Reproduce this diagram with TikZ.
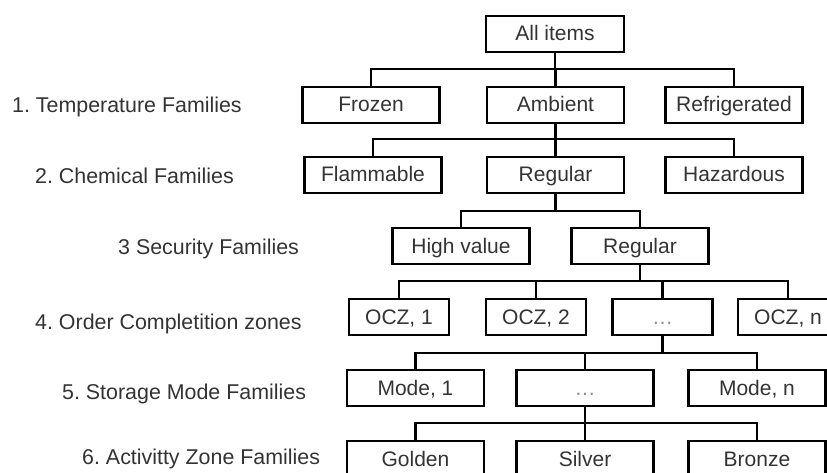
\documentclass[tikz,border=0pt]{standalone}
\usepackage{fontspec}
\setmainfont{Liberation Sans}
\frenchspacing
\begin{document}
\begin{tikzpicture}[x=1pt,y=-1pt,
    famnode/.style={draw=black,line width=2.6pt,minimum width=137pt,minimum height=36pt,
      inner sep=0pt,text height=16pt,text depth=2pt,text=black!80,font=\fontsize{21}{25}\selectfont},
    zonenode/.style={famnode,minimum width=100pt},
    levellabel/.style={anchor=west,inner sep=0pt,text height=16pt,text depth=2pt,
      text=black!80,font=\fontsize{21.4}{25}\selectfont},
    link/.style={line width=2.2pt}]
    % y runs downwards
    \useasboundingbox (0,0) rectangle (827,473);
    \clip (0,0) rectangle (827,473);
            % levels
            \node[levellabel] (lvla) at (12,106) {1. Temperature Families};
            \node[levellabel] (lvlb) at (35,177) {2. Chemical Families};
            \node[levellabel] (lvlc) at (118,247) {3 Security Families};
            \node[levellabel] (lvld) at (35,322) {4. Order Completition zones};
            \node[levellabel] (lvle) at (62,392) {5. Storage Mode Families};
            \node[levellabel] (lvlf) at (82,457) {6. Activitty Zone Families};
            % tree
            \node[famnode,minimum width=138pt] (all) at (555,34) {All items};
            \node[famnode] (frz) at (371,105) {Frozen};
            \node[famnode] (amb) at (555.5,105) {Ambient};
            \node[famnode] (ref) at (734,105) {Refrigerated};
            \node[famnode] (flam) at (373,175) {Flammable};
            \node[famnode] (reg) at (555.5,175) {Regular};
            \node[famnode] (haz) at (734,175) {Hazardous};
            \node[famnode] (high) at (461,246) {High value};
            \node[famnode] (sec) at (640,246) {Regular};
            \node[zonenode] (oczA) at (399,317) {OCZ, 1};
            \node[zonenode] (oczB) at (536,317) {OCZ, 2};
            \node[zonenode,text=black!45] (oczX) at (662.5,317) {\ldots};
            \node[zonenode] (oczN) at (788,317) {OCZ, n};
            \node[famnode] (modeA) at (415.5,388) {Mode, 1};
            \node[famnode,text=black!45] (modeX) at (585,388) {\ldots};
            \node[famnode] (modeN) at (757,388) {Mode, n};
            \node[famnode] (gold) at (415.5,459) {Golden};
            \node[famnode] (silv) at (585,459) {Silver};
            \node[famnode] (bron) at (757,459) {Bronze};
            % links
            \foreach \c in {frz,amb,ref} \draw[link] (all.south) -- ++(0,16) -| (\c.north);
            \foreach \c in {flam,reg,haz} \draw[link] (amb.south) -- ++(0,15) -| (\c.north);
            \foreach \c in {high,sec} \draw[link] (reg.south) -- ++(0,17) -| (\c.north);
            \foreach \c in {oczA,oczB,oczX,oczN} \draw[link] (sec.south) -- ++(0,15.5) -| (\c.north);
            \foreach \c in {modeA,modeX,modeN} \draw[link] (oczX.south) -- ++(0,16.5) -| (\c.north);
            \foreach \c in {gold,silv,bron} \draw[link] (modeX.south) -- ++(0,15.5) -| (\c.north);
        \end{tikzpicture}
\end{document}
